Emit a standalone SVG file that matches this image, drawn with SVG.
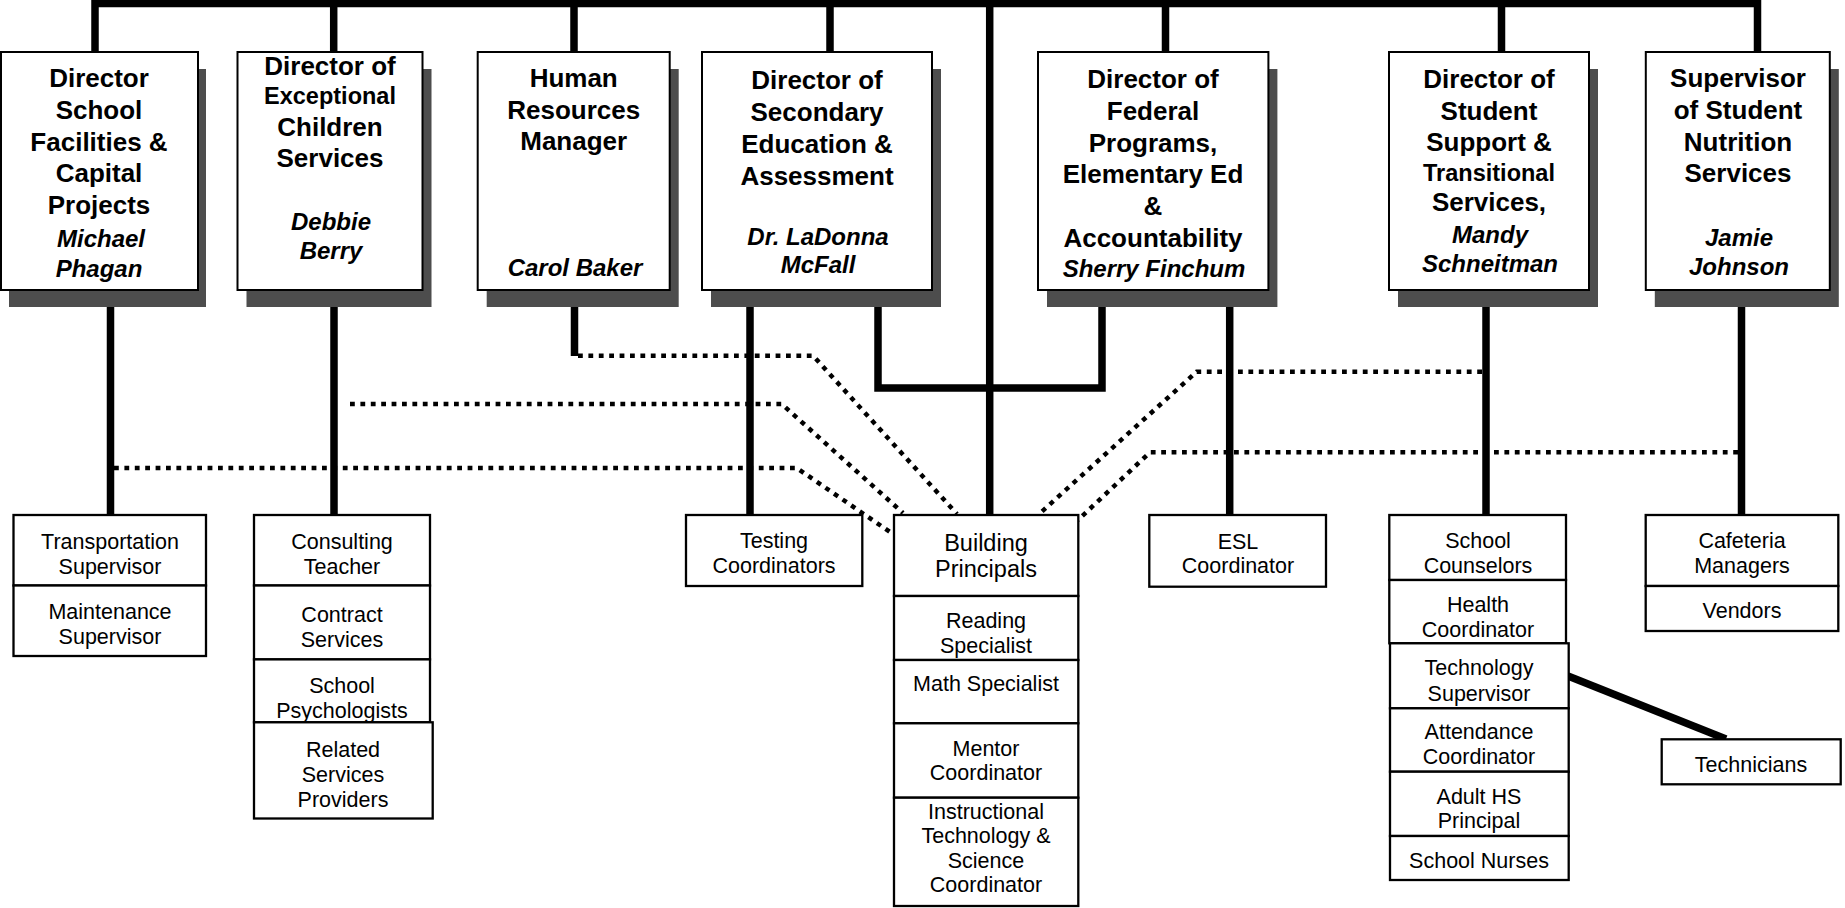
<svg xmlns="http://www.w3.org/2000/svg" width="1845" height="908" viewBox="0 0 1845 908">
<style>
.bg{fill:#ffffff}
.solid{stroke:#000;stroke-width:7.5;fill:none}
.dot{stroke:#000;stroke-width:4.5;fill:none;stroke-dasharray:4.8 5.6}
.shadow{fill:#4d4d4d}
.box{fill:#fff;stroke:#000;stroke-width:2}
.cell{fill:#fff;stroke:#000;stroke-width:2.3}
.t{font-family:"Liberation Sans",Arial,sans-serif;font-weight:bold;font-size:26px;text-anchor:middle;fill:#000}
.ts{font-size:23.5px}
.n{font-family:"Liberation Sans",Arial,sans-serif;font-weight:bold;font-style:italic;font-size:24px;text-anchor:middle;fill:#000}
.s{font-family:"Liberation Sans",Arial,sans-serif;font-size:21.5px;text-anchor:middle;fill:#000}
.sb{font-size:23.5px}
</style>
<rect class="bg" x="0" y="0" width="1845" height="908"/>
<g id="connectors">
  <path class="solid" d="M91.5,3.5 H1761 M95,0 V52 M333.7,0 V52 M574,0 V52 M830,0 V52 M1165.5,0 V52 M1501.5,0 V52 M1757.5,0 V52"/>
  <path class="solid" d="M989.7,0 V515"/>
  <path class="solid" d="M110.5,290 V515 M334,290 V515 M574.5,290 V356 M750,290 V515 M1229.7,290 V515 M1486,290 V515 M1741.5,290 V515"/>
  <path class="solid" d="M878,290 V388 H1102 V290"/>
  <path class="solid" stroke-width="7" d="M1568,676 L1726,739"/>
  <path class="dot" d="M578,355.7 H813 L957,514"/>
  <path class="dot" d="M350,404 H781.7 L903,513"/>
  <path class="dot" d="M114,468 H796.7 L890,532"/>
  <path class="dot" d="M1482,371.7 H1196.7 L1038,515"/>
  <path class="dot" d="M1738,452.3 H1150 L1078,520"/>
</g>
<g id="n-facilities">
  <rect class="shadow" x="9" y="69" width="197" height="238"/>
  <rect class="box" x="1" y="52" width="197" height="238"/>
  <text class="t" x="99" y="87.3">Director</text>
  <text class="t" x="99" y="119">School</text>
  <text class="t" x="99" y="150.7">Facilities &amp;</text>
  <text class="t" x="99" y="182.4">Capital</text>
  <text class="t" x="99" y="214">Projects</text>
  <text class="n" x="101" y="247">Michael</text>
  <text class="n" x="99" y="277">Phagan</text>
</g>
<g id="n-exceptional">
  <rect class="shadow" x="246.5" y="69" width="185" height="238"/>
  <rect class="box" x="237.5" y="52" width="185" height="238"/>
  <text class="t" x="330" y="75">Director of</text>
  <text class="t ts" x="330" y="104">Exceptional</text>
  <text class="t" x="330" y="136">Children</text>
  <text class="t" x="330" y="166.7">Services</text>
  <text class="n" x="331" y="230">Debbie</text>
  <text class="n" x="331" y="259">Berry</text>
</g>
<g id="n-hr">
  <rect class="shadow" x="486.7" y="69" width="192" height="238"/>
  <rect class="box" x="477.7" y="52" width="192" height="238"/>
  <text class="t" x="573.7" y="87.3">Human</text>
  <text class="t" x="573.7" y="119">Resources</text>
  <text class="t" x="573.7" y="150">Manager</text>
  <text class="n" x="575" y="276">Carol Baker</text>
</g>
<g id="n-secondary">
  <rect class="shadow" x="711" y="69" width="230" height="238"/>
  <rect class="box" x="702" y="52" width="230" height="238"/>
  <text class="t" x="817" y="89.3">Director of</text>
  <text class="t" x="817" y="120.7">Secondary</text>
  <text class="t" x="817" y="152.5">Education &amp;</text>
  <text class="t" x="817" y="184.5">Assessment</text>
  <text class="n" x="818" y="245">Dr. LaDonna</text>
  <text class="n" x="818" y="273.3">McFall</text>
</g>
<g id="n-federal">
  <rect class="shadow" x="1047" y="69" width="230.4" height="238"/>
  <rect class="box" x="1038" y="52" width="230.4" height="238"/>
  <text class="t" x="1153" y="88.3">Director of</text>
  <text class="t" x="1153" y="120">Federal</text>
  <text class="t" x="1153" y="151.7">Programs,</text>
  <text class="t" x="1153" y="183.4">Elementary Ed</text>
  <text class="t" x="1153" y="215">&amp;</text>
  <text class="t" x="1153" y="246.8">Accountability</text>
  <text class="n" x="1154" y="276.7">Sherry Finchum</text>
</g>
<g id="n-student-support">
  <rect class="shadow" x="1398" y="69" width="200" height="238"/>
  <rect class="box" x="1389" y="52" width="200" height="238"/>
  <text class="t" x="1489" y="88">Director of</text>
  <text class="t" x="1489" y="119.5">Student</text>
  <text class="t" x="1489" y="151">Support &amp;</text>
  <text class="t ts" x="1489" y="180.5">Transitional</text>
  <text class="t" x="1489" y="210.5">Services,</text>
  <text class="n" x="1490" y="243">Mandy</text>
  <text class="n" x="1490" y="272">Schneitman</text>
</g>
<g id="n-nutrition">
  <rect class="shadow" x="1654.8" y="69" width="184" height="238"/>
  <rect class="box" x="1645.8" y="52" width="184" height="238"/>
  <text class="t" x="1738" y="87.3">Supervisor</text>
  <text class="t" x="1738" y="119.3">of Student</text>
  <text class="t" x="1738" y="150.7">Nutrition</text>
  <text class="t" x="1738" y="182.4">Services</text>
  <text class="n" x="1739" y="246">Jamie</text>
  <text class="n" x="1739" y="275">Johnson</text>
</g>
<g id="n-transportation">
  <rect class="cell" x="13.5" y="515" width="192.5" height="70.5"/>
  <text class="s" x="110" y="548.5">Transportation</text>
  <text class="s" x="110" y="573.5">Supervisor</text>
  <rect class="cell" x="13.5" y="585.5" width="192.5" height="70.5"/>
  <text class="s" x="110" y="618.5">Maintenance</text>
  <text class="s" x="110" y="644">Supervisor</text>
</g>
<g id="n-consulting">
  <rect class="cell" x="254" y="515" width="176" height="70.5"/>
  <text class="s" x="342" y="548.5">Consulting</text>
  <text class="s" x="342" y="573.5">Teacher</text>
  <rect class="cell" x="254" y="585.5" width="176" height="73.9"/>
  <text class="s" x="342" y="621.5">Contract</text>
  <text class="s" x="342" y="647">Services</text>
  <rect class="cell" x="254" y="659.4" width="176" height="62.9"/>
  <text class="s" x="342" y="692.5">School</text>
  <text class="s" x="342" y="717.5">Psychologists</text>
  <rect class="cell" x="254" y="722.3" width="178.7" height="96.2"/>
  <text class="s" x="343" y="756.5">Related</text>
  <text class="s" x="343" y="781.5">Services</text>
  <text class="s" x="343" y="806.5">Providers</text>
</g>
<g id="n-testing">
  <rect class="cell" x="686" y="515" width="176.3" height="71"/>
  <text class="s" x="774" y="548">Testing</text>
  <text class="s" x="774" y="572.5">Coordinators</text>
</g>
<g id="n-principals">
  <rect class="cell" x="894" y="515" width="184.3" height="81"/>
  <text class="s sb" x="986" y="550.7">Building</text>
  <text class="s sb" x="986" y="576.7">Principals</text>
  <rect class="cell" x="894" y="596" width="184.3" height="64"/>
  <text class="s" x="986" y="628.3">Reading</text>
  <text class="s" x="986" y="652.5">Specialist</text>
  <rect class="cell" x="894" y="660" width="184.3" height="63.3"/>
  <text class="s" x="986" y="690.5">Math Specialist</text>
  <rect class="cell" x="894" y="723.3" width="184.3" height="74.4"/>
  <text class="s" x="986" y="755.5">Mentor</text>
  <text class="s" x="986" y="780">Coordinator</text>
  <rect class="cell" x="894" y="797.7" width="184.3" height="108.3"/>
  <text class="s" x="986" y="818.8">Instructional</text>
  <text class="s" x="986" y="843.2">Technology &amp;</text>
  <text class="s" x="986" y="867.5">Science</text>
  <text class="s" x="986" y="892.3">Coordinator</text>
</g>
<g id="n-esl">
  <rect class="cell" x="1149.3" y="515" width="176.7" height="71.7"/>
  <text class="s" x="1238" y="548.5">ESL</text>
  <text class="s" x="1238" y="573">Coordinator</text>
</g>
<g id="n-counselors">
  <rect class="cell" x="1389.3" y="515" width="176.7" height="65"/>
  <text class="s" x="1478" y="548">School</text>
  <text class="s" x="1478" y="573">Counselors</text>
  <rect class="cell" x="1389.3" y="580" width="176.7" height="63.3"/>
  <text class="s" x="1478" y="612">Health</text>
  <text class="s" x="1478" y="637">Coordinator</text>
  <rect class="cell" x="1390" y="643.3" width="178.7" height="65"/>
  <text class="s" x="1479" y="675">Technology</text>
  <text class="s" x="1479" y="701">Supervisor</text>
  <rect class="cell" x="1390" y="708.3" width="178.7" height="63.4"/>
  <text class="s" x="1479" y="739.3">Attendance</text>
  <text class="s" x="1479" y="764.3">Coordinator</text>
  <rect class="cell" x="1390" y="771.7" width="178.7" height="64.3"/>
  <text class="s" x="1479" y="803.7">Adult HS</text>
  <text class="s" x="1479" y="828.3">Principal</text>
  <rect class="cell" x="1390" y="836" width="178.7" height="44"/>
  <text class="s" x="1479" y="867.5">School Nurses</text>
</g>
<g id="n-cafeteria">
  <rect class="cell" x="1645.7" y="515" width="192.6" height="71"/>
  <text class="s" x="1742" y="548">Cafeteria</text>
  <text class="s" x="1742" y="573">Managers</text>
  <rect class="cell" x="1645.7" y="586" width="192.6" height="45"/>
  <text class="s" x="1742" y="618">Vendors</text>
</g>
<g id="n-technicians">
  <rect class="cell" x="1661.7" y="739.3" width="179" height="45"/>
  <text class="s" x="1751" y="771.8">Technicians</text>
</g>
</svg>
